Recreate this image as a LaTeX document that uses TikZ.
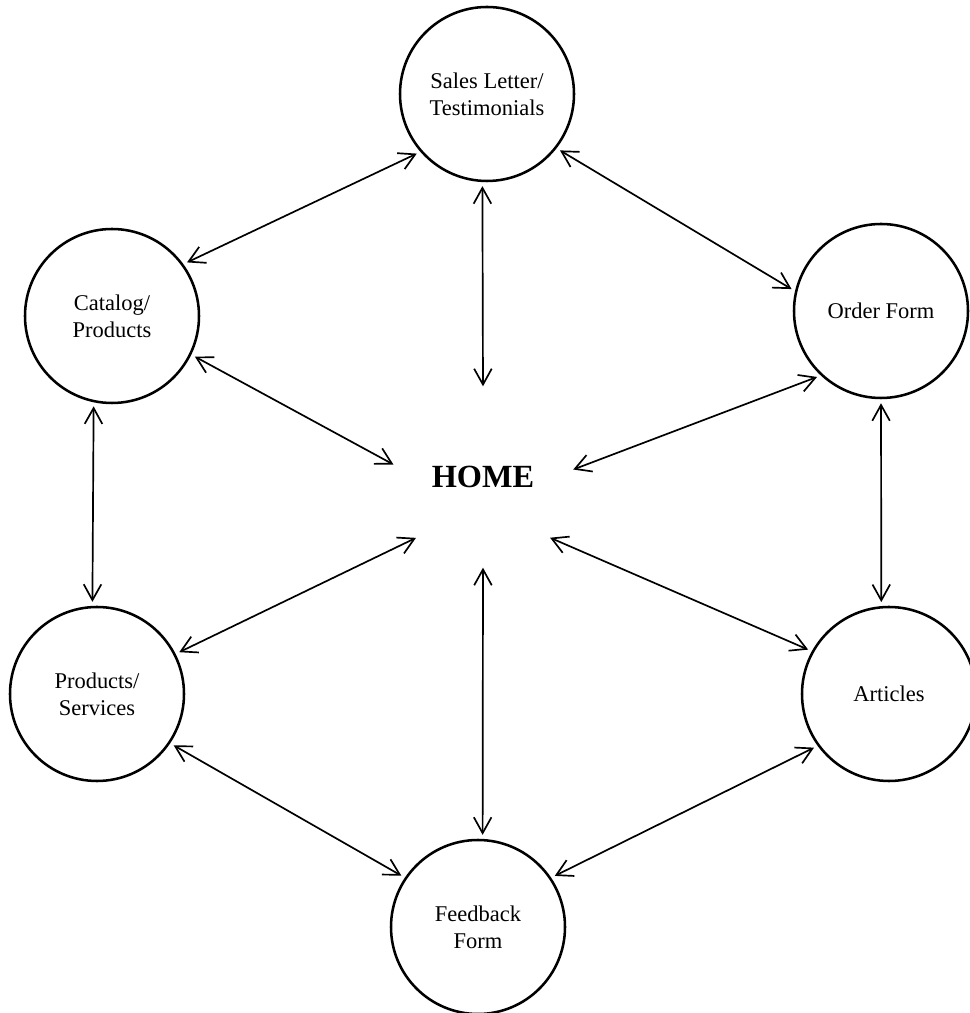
\documentclass[tikz,border=0pt]{standalone}
\usepackage{fontspec}
\setmainfont{Liberation Serif}
\usetikzlibrary{arrows.meta}
\tikzset{
  page/.style={
    circle, draw, line width=0.72pt, minimum size=1.74cm,
    inner sep=0pt, align=center,
    font=\fontsize{6.4pt}{7.6pt}\selectfont
  },
  hub/.style={
    circle, minimum size=1.72cm, inner sep=0pt,
    font=\fontsize{9.2pt}{11pt}\selectfont\bfseries
  },
  link/.style={
    {Straight Barb[length=4.5pt,width=5pt]}-{Straight Barb[length=4.5pt,width=5pt]},
    line width=0.48pt, shorten >=0.04cm, shorten <=0.04cm
  }
}

\begin{document}
\begin{tikzpicture}
  \useasboundingbox (0,0) rectangle (9.69,10.13);
  % Pages
  \node[page] (sales) at (4.87,9.19) {Sales Letter/\\Testimonials};
  \node[page] (catalog) at (1.12,6.97) {Catalog/\\Products};
  \node[page] (order) at (8.81,7.02) {Order Form};
  \node[page] (products) at (0.97,3.19) {Products/\\Services};
  \node[page] (articles) at (8.89,3.19) {Articles};
  \node[page] (feedback) at (4.78,0.86) {Feedback\\Form};
  % Home
  \node[hub] (home) at (4.83,5.36) {HOME};
  % Links
  \draw[link] (sales.221) -- (catalog.36);
  \draw[link] (sales.322) -- (order.167);
  \draw[link] (sales.267) -- (home.90);
  \draw[link] (catalog.334) -- (home.173);
  \draw[link] (order.227) -- (home.4);
  \draw[link] (catalog.258) -- (products.93);
  \draw[link] (order.270) -- (articles.95);
  \draw[link] (home.223) -- (products.27);
  \draw[link] (home.317) -- (articles.151);
  \draw[link] (home.270) -- (feedback.87);
  \draw[link] (products.326) -- (feedback.146);
  \draw[link] (articles.216) -- (feedback.34);
\end{tikzpicture}
\end{document}
